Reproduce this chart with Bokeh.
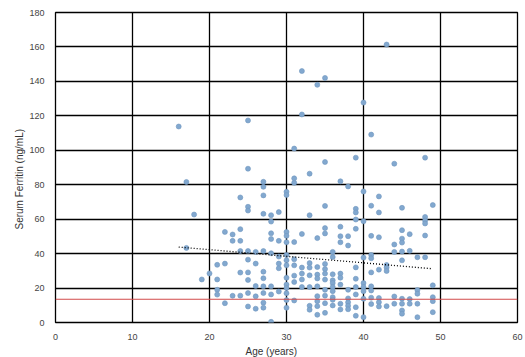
import math
from bokeh.plotting import figure
from bokeh.models import Range1d, FixedTicker, Span, Title
from bokeh.embed import file_html
from bokeh.resources import INLINE

# ---- data ----
ferritin_by_age = {
    16: [113.8],
    17: [81.6, 43.3],
    18: [62.7],
    19: [25.0],
    20: [28.5],
    21: [33.5, 25.0, 19.0, 16.2],
    22: [52.6, 34.2, 11.2],
    23: [51.1, 47.4, 15.5],
    24: [72.6, 54.2, 47.4, 41.5, 29.0, 15.6],
    25: [117.3, 89.3, 67.2, 65.0, 41.5, 36.5, 29.1, 24.7, 17.1, 9.3],
    26: [41.0, 34.2, 21.2, 15.2, 8.0],
    27: [81.7, 78.8, 73.8, 63.1, 41.5, 29.5, 25.7, 21.0, 17.1, 11.5, 8.6],
    28: [62.3, 58.6, 51.8, 48.5, 40.2, 21.0, 16.3, 0.4],
    29: [64.1, 47.4, 38.3, 34.2, 31.5, 18.0],
    30: [75.9, 74.0, 52.6, 50.3, 46.6, 39.2, 36.1, 33.2, 26.0, 22.0, 20.0, 17.0, 13.0, 8.6],
    31: [101.0, 83.7, 81.1, 46.7, 36.7, 33.2, 27.2, 23.5, 12.8],
    32: [146.0, 120.8, 51.4, 31.9, 28.4, 25.0, 20.6],
    33: [86.4, 62.3, 34.5, 31.9, 27.4, 20.6, 9.7, 7.4],
    34: [138.0, 49.0, 32.2, 27.8, 25.6, 21.0, 15.3, 12.4, 9.5, 4.5],
    35: [142.0, 93.2, 67.7, 54.8, 51.7, 34.0, 31.0, 28.4, 24.9, 19.0, 15.6, 11.2, 5.6],
    36: [41.0, 38.0, 28.0, 24.5, 22.9, 20.6, 18.2, 14.7, 13.2, 9.9],
    37: [82.0, 55.6, 50.1, 46.6, 28.4, 26.0, 22.0, 10.9, 7.6],
    38: [79.0, 50.1, 44.7, 19.0, 14.0, 11.7, 9.7, 7.7],
    39: [95.7, 66.0, 63.9, 59.8, 54.4, 32.0, 25.4, 20.6, 16.3, 8.9, 3.9],
    40: [127.7, 76.1, 58.8, 37.7, 22.9, 20.6, 18.2, 13.8, 3.1],
    41: [109.1, 67.8, 50.3, 39.2, 37.3, 29.1, 21.0, 18.6, 14.4, 10.7],
    42: [73.2, 63.9, 49.5, 30.7, 14.2, 11.8, 9.3],
    43: [161.4, 33.4, 31.9, 29.9, 9.5],
    44: [92.2, 45.3, 41.0, 15.1, 10.9],
    45: [66.6, 53.6, 48.7, 46.4, 41.2, 36.1, 13.8, 10.9, 7.0, 5.1],
    46: [51.3, 41.6, 13.6, 10.9],
    47: [37.9, 18.8, 16.7, 10.9, 3.1],
    48: [95.7, 61.3, 59.2, 57.5, 50.5, 37.9],
    49: [68.2, 21.6, 14.7, 12.4, 6.0],
}
ages = []
ferritin = []
for a, vals in ferritin_by_age.items():
    for v in vals:
        ages.append(a)
        ferritin.append(v)

trend_x = [16, 49]
trend_y = [43.8, 31.2]
cutoff = 13.5

x_ticks = [0, 10, 20, 30, 40, 50, 60]
y_ticks = [0, 20, 40, 60, 80, 100, 120, 140, 160, 180]

FONT = "Liberation Sans"

p = figure(width=525, height=357, output_backend="svg", toolbar_location=None,
           x_range=Range1d(0, 60), y_range=Range1d(0, 180),
           min_border_left=55, min_border_right=8, min_border_top=12, min_border_bottom=0)
p.outline_line_color = "black"
p.outline_line_width = 1.3

for ax, ticks in ((p.xaxis, x_ticks), (p.yaxis, y_ticks)):
    ax.ticker = FixedTicker(ticks=ticks)
    ax.axis_line_color = None
    ax.major_tick_line_color = None
    ax.minor_tick_line_color = None
    ax.major_label_text_font = FONT
    ax.major_label_text_font_size = "9px"
    ax.major_label_text_color = "#444444"
    ax.major_label_standoff = 5

p.xgrid.ticker = FixedTicker(ticks=x_ticks)
p.ygrid.ticker = FixedTicker(ticks=y_ticks)
for g in (p.xgrid, p.ygrid):
    g.grid_line_color = "black"
    g.grid_line_width = 1.3
    g.grid_line_alpha = 1.0

p.add_layout(Span(location=cutoff, dimension="width", line_color="#d24b4b", line_width=1))

p.scatter(ages, ferritin, size=5, fill_color="#82a8cf", line_color="#7097c0", line_width=0.6)

p.line(trend_x, trend_y, line_color="black", line_width=1.3, line_dash="1 2")

p.add_layout(Title(text="Age (years)", text_font=FONT, text_font_size="10px",
                   text_color="#333333", text_font_style="normal", align="left",
                   offset=190, standoff=2), "below")
p.add_layout(Title(text="Serum Ferritin (ng/mL)", text_font=FONT, text_font_size="10px",
                   text_color="#333333", text_font_style="normal", align="left",
                   offset=93, standoff=4), "left")

open("out.html", "w").write(file_html(p, INLINE))
